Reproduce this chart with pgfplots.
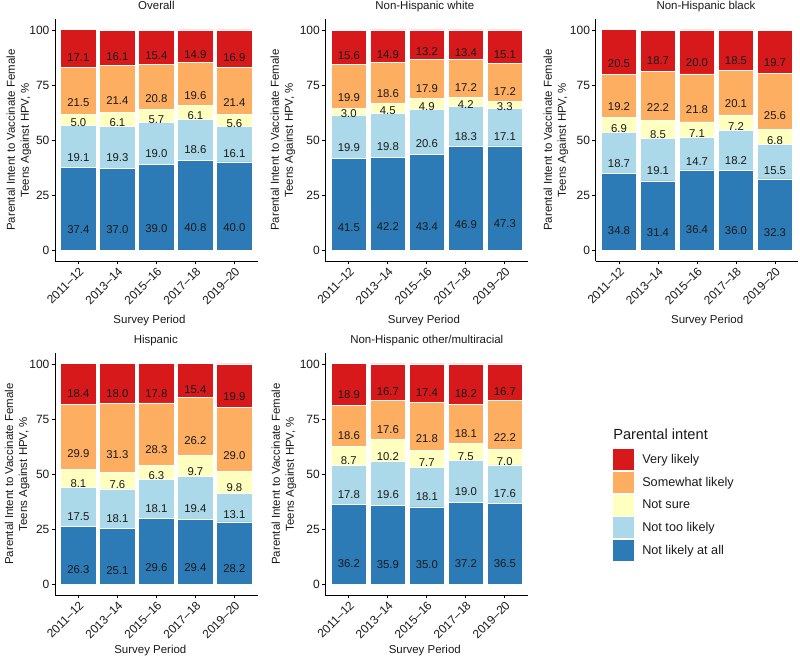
\documentclass[border=0pt]{standalone}
\usepackage{fontspec}
\setmainfont{Liberation Sans}
\usepackage{pgfplots}
\usepackage{pgfplotstable}
\pgfplotsset{compat=1.18}
\definecolor{cVL}{HTML}{D7191C}
\definecolor{cSL}{HTML}{FDAE61}
\definecolor{cNS}{HTML}{FFFFBF}
\definecolor{cNT}{HTML}{ABD9E9}
\definecolor{cNL}{HTML}{2C7BB6}
\definecolor{txt}{HTML}{1A1A1A}

% a = Not likely at all, b = Not too likely, c = Not sure, d = Somewhat likely, e = Very likely
\pgfplotstableread{
x a b c d e
0 37.4 19.1 5.0 21.5 17.1
1 37.0 19.3 6.1 21.4 16.1
2 39.0 19.0 5.7 20.8 15.4
3 40.8 18.6 6.1 19.6 14.9
4 40.0 16.1 5.6 21.4 16.9
}\tOverall
\pgfplotstableread{
x a b c d e
0 41.5 19.9 3.0 19.9 15.6
1 42.2 19.8 4.5 18.6 14.9
2 43.4 20.6 4.9 17.9 13.2
3 46.9 18.3 4.2 17.2 13.4
4 47.3 17.1 3.3 17.2 15.1
}\tWhite
\pgfplotstableread{
x a b c d e
0 34.8 18.7 6.9 19.2 20.5
1 31.4 19.1 8.5 22.2 18.7
2 36.4 14.7 7.1 21.8 20.0
3 36.0 18.2 7.2 20.1 18.5
4 32.3 15.5 6.8 25.6 19.7
}\tBlack
\pgfplotstableread{
x a b c d e
0 26.3 17.5 8.1 29.9 18.4
1 25.1 18.1 7.6 31.3 18.0
2 29.6 18.1 6.3 28.3 17.8
3 29.4 19.4 9.7 26.2 15.4
4 28.2 13.1 9.8 29.0 19.9
}\tHispanic
\pgfplotstableread{
x a b c d e
0 36.2 17.8 8.7 18.6 18.9
1 35.9 19.6 10.2 17.6 16.7
2 35.0 18.1 7.7 21.8 17.4
3 37.2 19.0 7.5 18.1 18.2
4 36.5 17.6 7.0 22.2 16.7
}\tOther

\pgfplotsset{
  panel/.style n args={5}{
    scale only axis, width=152.1pt, height=181.5pt,
    xmin=-0.6, xmax=4.6, ymin=-5, ymax=105,
    ybar stacked, bar width=0.9,
    axis x line*=bottom, axis y line*=left,
    axis line style={line width=0.7pt, black},
    tick style={line width=0.6pt, black},
    tick align=outside, major tick length=2.5pt,
    xtick={0,1,2,3,4}, ytick={0,25,50,75,100},
    xticklabels={2011–12,2013–14,2015–16,2017–18,2019–20},
    xticklabel style={rotate=45, anchor=north east, inner sep=1pt, font=\fontsize{9}{10}\selectfont, text=txt},
    yticklabel style={inner sep=1.5pt, font=\fontsize{9}{10}\selectfont, text=txt},
    /pgf/number format/assume math mode=true,
    ylabel={Parental Intent to Vaccinate Female\\Teens Against HPV, \%},
    ylabel style={at={(axis description cs:#1,0.5)}, anchor=center, align=center, font=\fontsize{8.6}{10.5}\selectfont, text=txt},
    every axis title shift=0pt,
    title style={at={(axis description cs:#2,1)}, anchor=base, yshift=6.75pt, font=\fontsize{8.6}{10}\selectfont, text=txt},
    xlabel={Survey Period},
    xlabel style={at={(axis description cs:#3,0)}, anchor=base, yshift=#4, font=\fontsize{8.6}{10}\selectfont, text=txt},
    title={#5},
    point meta=explicit,
    visualization depends on=rawy \as \rawy,
    nodes near coords={\pgfmathprintnumber[fixed,fixed zerofill,precision=1]{\pgfplotspointmeta}},
    every node near coord/.append style={anchor=center, inner sep=0pt, font=\fontsize{8.5}{10}\selectfont, text=txt, yshift={-0.4125pt*\rawy}},
    clip=false,
    anchor=south west,
  },
}

\newcommand{\bars}[1]{%
  \addplot[fill=cNL, draw=white, line width=0.6pt] table[x=x, y=a, meta=a] {#1};
  \addplot[fill=cNT, draw=white, line width=0.6pt] table[x=x, y=b, meta=b] {#1};
  \addplot[fill=cNS, draw=white, line width=0.6pt] table[x=x, y=c, meta=c] {#1};
  \addplot[fill=cSL, draw=white, line width=0.6pt] table[x=x, y=d, meta=d] {#1};
  \addplot[fill=cVL, draw=white, line width=0.6pt] table[x=x, y=e, meta=e] {#1};
}

\begin{document}
\begin{tikzpicture}
\useasboundingbox (0,0) rectangle (600pt,492.75pt);

\begin{axis}[panel={-0.178}{0.5}{0.466}{-46.7pt}{Overall}, at={(41.25pt,297pt)}]
\bars{\tOverall}
\end{axis}

\begin{axis}[panel={-0.209}{0.49}{0.486}{-46.7pt}{Non-Hispanic white}, at={(244.05pt,297pt)}]
\bars{\tWhite}
\end{axis}

\begin{axis}[panel={-0.196}{0.544}{0.55}{-46.7pt}{Non-Hispanic black}, at={(446.7pt,297pt)}]
\bars{\tBlack}
\end{axis}

\begin{axis}[panel={-0.186}{0.497}{0.47}{-43.7pt}{Hispanic}, at={(41.25pt,46.5pt)}]
\bars{\tHispanic}
\end{axis}

\begin{axis}[panel={-0.204}{0.5}{0.49}{-43.7pt}{Non-Hispanic other/multiracial}, at={(244.05pt,46.5pt)}]
\bars{\tOther}
\end{axis}

\node[anchor=base west, inner sep=0pt, font=\fontsize{11}{12}\selectfont, text=txt] at (459.75pt,162.75pt) {Parental intent};

\begin{axis}[at={(459.75pt,156pt)}, anchor=south west, scale only axis, width=10pt, height=10pt,
  hide axis, xmin=0, xmax=1, ymin=0, ymax=1,
  legend style={at={(0,0)}, anchor=north west, draw=none, fill=none, inner sep=0pt, row sep=1.25pt,
    font=\fontsize{9.5}{10}\selectfont, text=txt, nodes={inner sep=2pt},
    /tikz/every odd column/.append style={column sep=4pt}},
  legend cell align=left,
  legend image code/.code={\fill[#1] (0pt,-7.875pt) rectangle (15.75pt,7.875pt);},
]
\addlegendimage{fill=cVL, draw=none}\addlegendentry{Very likely}
\addlegendimage{fill=cSL, draw=none}\addlegendentry{Somewhat likely}
\addlegendimage{fill=cNS, draw=none}\addlegendentry{Not sure}
\addlegendimage{fill=cNT, draw=none}\addlegendentry{Not too likely}
\addlegendimage{fill=cNL, draw=none}\addlegendentry{Not likely at all}
\end{axis}
\end{tikzpicture}
\end{document}
